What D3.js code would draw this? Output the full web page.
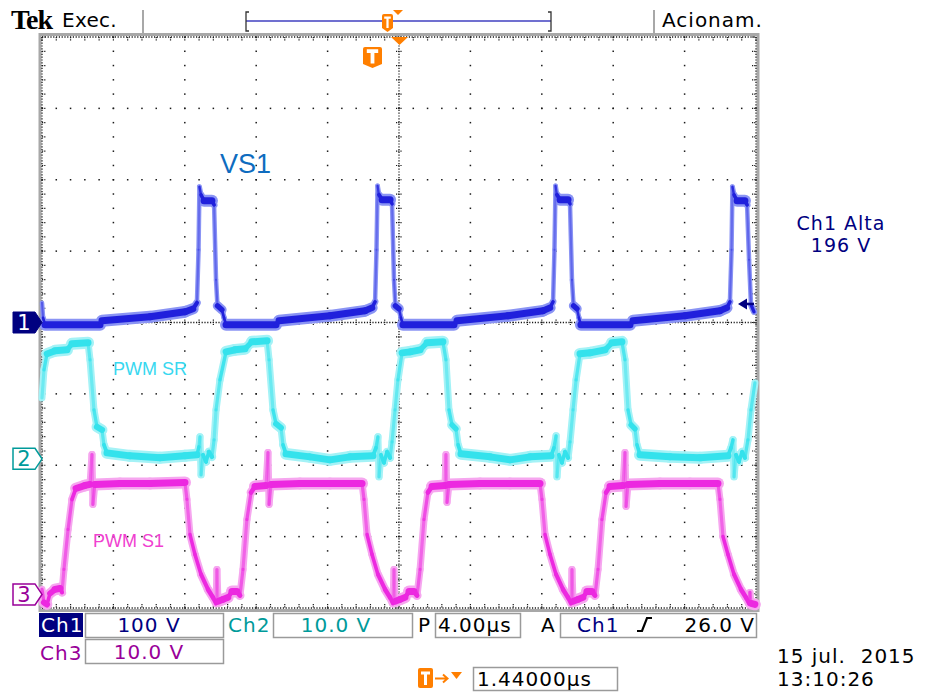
<!DOCTYPE html>
<html>
<head>
<meta charset="utf-8">
<script src="https://cdn.jsdelivr.net/npm/d3@7"></script>
<style>
  body { margin: 0; background: #fff; }
  text { font-family: "DejaVu Sans", sans-serif; }
</style>
</head>
<body>
<script>
'use strict';

// scope settings
var timePerDiv = 4;                 // µs/div
var channelNames = ["Ch1", "Ch2", "Ch3"];
var voltsPerDiv = [100, 10, 10];
var groundDiv = [0, -1.91, -3.81];  // channel ground marker, in divisions from centre
var triggerLevel = 26;              // V on Ch1

// traces: [time µs (0 = screen centre), volts]
var vs1Trace = [
  [-20.00, 27.6], [-19.94, 6.6], [-19.83, -3.2], [-16.75, -3.2], [-16.64, 2.4], [-13.95, 8.0],
  [-11.99, 15.0], [-11.54, 19.2], [-11.32, 27.6], [-11.23, 101.8], [-11.18, 190.1], [-11.09, 178.9],
  [-10.92, 170.5], [-10.48, 170.5], [-10.36, 164.9], [-10.25, 59.8], [-10.17, 23.4], [-9.92, 17.8],
  [-9.80, 6.6], [-9.69, -3.2],
  [-6.89, -3.2], [-6.72, 2.4], [-3.87, 9.4], [-1.90, 16.4], [-1.51, 20.6], [-1.34, 29.0],
  [-1.26, 101.8], [-1.20, 191.5], [-1.12, 178.9], [-0.95, 171.9], [-0.50, 171.9], [-0.39, 166.3],
  [-0.28, 59.8], [-0.20, 23.4], [0.00, 19.2], [0.11, 6.6], [0.22, -3.2],
  [3.08, -3.2], [3.25, 2.4], [6.11, 9.4], [8.07, 16.4], [8.46, 20.6], [8.63, 29.0],
  [8.71, 101.8], [8.77, 191.5], [8.85, 178.9], [9.02, 171.9], [9.47, 171.9], [9.58, 166.3],
  [9.69, 59.8], [9.78, 23.4], [9.97, 19.2], [10.08, 6.6], [10.19, -3.2],
  [12.94, -3.2], [13.11, 2.4], [16.02, 9.4], [17.98, 16.4], [18.37, 20.6], [18.54, 29.0],
  [18.63, 101.8], [18.68, 190.1], [18.77, 178.9], [18.94, 170.5], [19.38, 170.5], [19.50, 164.9],
  [19.61, 87.8], [19.72, 24.8], [19.89, 15.0]
];

var pwmSrTrace = [
  [-20.00, 8.54], [-19.89, 12.47], [-19.72, 14.71], [-19.27, 15.13], [-18.60, 15.27], [-18.32, 16.11],
  [-17.42, 16.25], [-17.31, 13.87], [-17.09, 6.86], [-16.92, 4.48], [-16.64, 4.06], [-16.53, 1.96],
  [-16.36, 0.84], [-15.07, 0.42], [-13.39, 0.14], [-11.99, 0.42], [-11.32, 0.56], [-11.21, 1.68],
  [-11.15, 3.08], [-11.09, -2.24], [-10.98, 0.56], [-10.81, -0.42], [-10.65, 0.98], [-10.48, 0.28],
  [-10.36, 2.66], [-10.25, 6.86], [-10.03, 11.06], [-9.69, 14.99], [-9.19, 15.27], [-8.63, 15.41],
  [-8.24, 16.39], [-7.39, 16.53], [-7.28, 13.87], [-7.06, 6.86], [-6.89, 4.90], [-6.61, 4.34],
  [-6.50, 1.96], [-6.33, 0.70], [-4.99, 0.28], [-3.87, -0.14], [-2.75, 0.28], [-1.46, 0.42],
  [-1.29, 1.54], [-1.18, 3.08], [-1.12, -2.52], [-1.01, 0.56], [-0.84, -0.56], [-0.67, 0.98],
  [-0.50, 0.14], [-0.39, 2.38], [-0.22, 6.86], [-0.06, 11.06], [0.17, 14.85], [0.62, 14.99],
  [1.18, 15.27], [1.57, 16.25], [2.46, 16.39], [2.63, 13.87], [2.80, 6.86], [2.97, 4.76],
  [3.19, 4.20], [3.31, 1.96], [3.47, 0.70], [5.10, 0.28], [6.22, -0.14], [7.34, 0.28],
  [8.52, 0.42], [8.68, 1.54], [8.80, 3.22], [8.85, -2.52], [8.96, 0.56], [9.13, -0.56],
  [9.30, 0.98], [9.47, 0.14], [9.58, 2.38], [9.75, 6.86], [9.92, 11.06], [10.14, 14.71],
  [10.70, 14.85], [11.54, 15.27], [11.93, 16.25], [12.49, 16.39], [12.66, 13.87], [12.83, 6.86],
  [13.00, 4.76], [13.22, 4.20], [13.33, 1.96], [13.50, 0.56], [15.18, 0.28], [16.86, 0.14],
  [18.43, 0.42], [18.60, 1.54], [18.71, 2.66], [18.77, -2.52], [18.88, 0.56], [19.05, -0.42],
  [19.22, 0.98], [19.38, 0.14], [19.55, 2.66], [19.72, 6.86], [19.94, 10.64]
];

var pwmS1Trace = [
  [-20.00, 0.70], [-19.89, -1.12], [-19.72, -1.40], [-19.55, 0.14], [-19.27, 0.70], [-18.99, 0.84],
  [-18.88, 0.28], [-18.77, 3.50], [-18.54, 9.10], [-18.32, 13.31], [-18.10, 14.85], [-17.59, 15.27],
  [-17.31, 15.41], [-17.20, 19.61], [-17.15, 12.61], [-17.04, 15.41], [-15.63, 15.55], [-13.95, 15.55],
  [-11.99, 15.69], [-11.88, 13.31], [-11.71, 8.40], [-11.43, 5.60], [-11.09, 2.80], [-10.70, 0.70],
  [-10.42, -0.42], [-10.25, -1.26], [-10.20, 3.50], [-10.14, -0.98], [-9.86, -0.70], [-9.58, -0.42],
  [-9.36, 0.42], [-9.08, 0.42], [-8.91, -0.14], [-8.74, 3.50], [-8.52, 10.50], [-8.29, 14.29],
  [-8.07, 15.13], [-7.45, 15.27], [-7.34, 19.89], [-7.28, 12.61], [-7.17, 15.41], [-5.55, 15.55],
  [-3.87, 15.55], [-2.07, 15.55], [-1.96, 13.31], [-1.79, 8.40], [-1.51, 5.60], [-1.18, 2.80],
  [-0.78, 0.70], [-0.50, -0.42], [-0.34, -1.26], [-0.28, 3.50], [-0.22, -0.98], [0.06, -0.70],
  [0.34, -0.42], [0.56, 0.42], [0.84, 0.42], [1.01, -0.14], [1.18, 3.50], [1.40, 10.50],
  [1.62, 14.29], [1.85, 15.13], [2.58, 15.27], [2.63, 19.61], [2.69, 12.89], [2.80, 15.41],
  [4.54, 15.55], [6.22, 15.55], [7.90, 15.55], [8.01, 13.31], [8.18, 8.40], [8.46, 5.60],
  [8.80, 2.80], [9.19, 0.70], [9.47, -0.42], [9.64, -1.26], [9.69, 3.50], [9.75, -0.98],
  [10.03, -0.70], [10.31, -0.42], [10.53, 0.42], [10.81, 0.42], [10.98, -0.14], [11.15, 3.50],
  [11.37, 10.50], [11.60, 14.29], [11.82, 15.13], [12.55, 15.27], [12.66, 19.89], [12.72, 12.33],
  [12.83, 15.41], [14.62, 15.55], [16.30, 15.55], [17.87, 15.55], [17.98, 13.31], [18.15, 8.12],
  [18.43, 5.60], [18.77, 2.80], [19.16, 0.70], [19.44, -0.42], [19.61, -1.26], [19.66, 0.28],
  [19.72, -1.26], [19.94, -1.40]
];

// annotations and readouts
var traceLabels = ["VS1", "PWM SR", "PWM S1"];
var scaleReadouts = ["100 V", "10.0 V", "10.0 V"];
var timeReadout = "4.00µs";
var triggerReadout = "26.0 V";
var delayReadout = "1.44000µs";
var measureLines = ["Ch1 Alta", "196 V"];
var dateLines = ["15 jul.  2015", "13:10:26"];
var headerTexts = ["Tek", "Exec.", "Acionam."];

var W = 925, H = 693;
var navy = "#000080", teal = "#009a9a", purple = "#990099", orange = "#ff7f00";

var svg = d3.select("body").append("svg")
    .attr("width", W)
    .attr("height", H);

var x = d3.scaleLinear().domain([-5 * timePerDiv, 5 * timePerDiv]).range([42, 756]);
var yDiv = d3.scaleLinear().domain([-4, 4]).range([608, 37]);
function yOf(ch, v) { return yDiv(v / voltsPerDiv[ch] + groundDiv[ch]); }

// ---- graticule ----
var grid = svg.append("g");
grid.append("rect")
    .attr("x", 40).attr("y", 34.5)
    .attr("width", 718).attr("height", 576)
    .attr("fill", "none").attr("stroke", "#a8a8a8").attr("stroke-width", 3);

var xMajor = d3.range(-20, 20.01, timePerDiv);
var xMinor = d3.range(-20, 20.01, timePerDiv / 5);
var yMajor = d3.range(-4, 4.01, 1);
var yMinor = d3.range(-4, 4.01, 0.2);
var dotColor = "#1a1a1a";

// plain dotted gridlines
xMajor.filter(function(t) { return Math.abs(t) > 0.01 && Math.abs(t) < 19.99; }).forEach(function(t) {
  grid.selectAll(null).data(yMinor).enter().append("rect")
      .attr("x", x(t) - 0.75).attr("y", function(d) { return yDiv(d) - 0.75; })
      .attr("width", 1.5).attr("height", 1.5).attr("fill", dotColor);
});
yMajor.filter(function(d) { return Math.abs(d) > 0.01 && Math.abs(d) < 3.99; }).forEach(function(dv) {
  grid.selectAll(null).data(xMinor).enter().append("rect")
      .attr("x", function(t) { return x(t) - 0.75; }).attr("y", yDiv(dv) - 0.75)
      .attr("width", 1.5).attr("height", 1.5).attr("fill", dotColor);
});

// centre crosshair and border: dense dots with minor ticks
function denseLine(x1, y1, x2, y2) {
  grid.append("line")
      .attr("x1", x1).attr("y1", y1).attr("x2", x2).attr("y2", y2)
      .attr("stroke", dotColor).attr("stroke-width", 1.3)
      .attr("stroke-dasharray", "1.2,1.6");
}
denseLine(x(0), yDiv(4), x(0), yDiv(-4));
denseLine(x(-20), yDiv(0), x(20), yDiv(0));
denseLine(x(-20), yDiv(4), x(20), yDiv(4));
denseLine(x(-20), yDiv(-4), x(20), yDiv(-4));
denseLine(x(-20), yDiv(4), x(-20), yDiv(-4));
denseLine(x(20), yDiv(4), x(20), yDiv(-4));

xMinor.forEach(function(t) {
  [[yDiv(0) - 3, yDiv(0) + 3], [yDiv(4), yDiv(4) + 4], [yDiv(-4) - 4, yDiv(-4)]].forEach(function(s) {
    grid.append("line").attr("x1", x(t)).attr("x2", x(t)).attr("y1", s[0]).attr("y2", s[1])
        .attr("stroke", dotColor).attr("stroke-width", 1.2).attr("stroke-dasharray", "1.2,1");
  });
});
yMinor.forEach(function(d) {
  [[x(0) - 3, x(0) + 3], [x(-20), x(-20) + 4], [x(20) - 4, x(20)]].forEach(function(s) {
    grid.append("line").attr("y1", yDiv(d)).attr("y2", yDiv(d)).attr("x1", s[0]).attr("x2", s[1])
        .attr("stroke", dotColor).attr("stroke-width", 1.2).attr("stroke-dasharray", "1.2,1");
  });
});

// ---- traces ----
// a noisy band: vertical noise thickness plus some timing jitter,
// so fast edges come out thin and faint, flat parts thick
function slope(ch, d) {
  var dx = Math.abs(x(d[1][0]) - x(d[0][0]));
  var dy = Math.abs(yOf(ch, d[1][1]) - yOf(ch, d[0][1]));
  var len = Math.sqrt(dx * dx + dy * dy) || 1;
  return [dx / len, dy / len];
}
function band(ch, d, vert, horiz) {
  var cs = slope(ch, d);
  return Math.sqrt(vert * vert * cs[0] * cs[0] + horiz * horiz * cs[1] * cs[1]);
}
function drawTrace(ch, pts, core, halo, jitter) {
  var g = svg.append("g");
  var segs = d3.pairs(pts);
  g.selectAll(".halo").data(segs).enter().append("line")
      .attr("x1", function(d) { return x(d[0][0]); })
      .attr("y1", function(d) { return yOf(ch, d[0][1]); })
      .attr("x2", function(d) { return x(d[1][0]); })
      .attr("y2", function(d) { return yOf(ch, d[1][1]); })
      .attr("stroke", halo)
      .attr("stroke-width", function(d) { return band(ch, d, 12, jitter); })
      .attr("stroke-linecap", "round");
  g.selectAll(".core").data(segs).enter().append("line")
      .attr("x1", function(d) { return x(d[0][0]); })
      .attr("y1", function(d) { return yOf(ch, d[0][1]); })
      .attr("x2", function(d) { return x(d[1][0]); })
      .attr("y2", function(d) { return yOf(ch, d[1][1]); })
      .attr("stroke", core)
      .attr("stroke-opacity", function(d) { return 0.3 + 0.7 * Math.min(1, slope(ch, d)[0] * 4); })
      .attr("stroke-width", function(d) { return band(ch, d, 7, jitter * 0.45); })
      .attr("stroke-linecap", "round");
}
drawTrace(0, vs1Trace, "#2020dc", "#8a94f4", 4.5);
drawTrace(1, pwmSrTrace, "#34e2ec", "#a4f2f6", 7);
drawTrace(2, pwmS1Trace, "#ec28e0", "#f6a6ef", 7);

// ---- channel ground markers ----
var markerColors = [navy, teal, purple];
[0, 1, 2].forEach(function(ch) {
  var ym = yDiv(groundDiv[ch]);
  var filled = ch === 0;
  svg.append("path")
      .attr("d", "M13," + (ym - 10.5) + " L35," + (ym - 10.5) + " L42," + ym + " L35," + (ym + 10.5) + " L13," + (ym + 10.5) + " Z")
      .attr("fill", filled ? navy : "#fff")
      .attr("stroke", markerColors[ch]).attr("stroke-width", filled ? 1 : 1.5);
  svg.append("text")
      .attr("x", 24).attr("y", ym + 7.5)
      .attr("text-anchor", "middle")
      .attr("font-size", 21)
      .attr("fill", filled ? "#fff" : markerColors[ch])
      .text(ch + 1);
});

// trigger level arrow (right side)
var yTrig = yOf(0, triggerLevel);
svg.append("path")
    .attr("d", "M738," + yTrig + " L747," + (yTrig - 5.5) + " L747," + (yTrig + 5.5) + " Z")
    .attr("fill", navy);
svg.append("line").attr("x1", 745).attr("x2", 754).attr("y1", yTrig).attr("y2", yTrig)
    .attr("stroke", navy).attr("stroke-width", 2.5);

// ---- trace annotations ----
svg.append("text").attr("x", 220).attr("y", 173)
    .style("font-family", "'Liberation Sans', sans-serif").attr("font-size", 27)
    .attr("fill", "#0e6cbf").text(traceLabels[0]);
svg.append("text").attr("x", 113).attr("y", 375)
    .style("font-family", "'Liberation Sans', sans-serif").attr("font-size", 18)
    .attr("fill", "#38d8f0").text(traceLabels[1]);
svg.append("text").attr("x", 93).attr("y", 547)
    .style("font-family", "'Liberation Sans', sans-serif").attr("font-size", 18)
    .attr("fill", "#f040d0").text(traceLabels[2]);

// measurement readout
measureLines.forEach(function(s, i) {
  svg.append("text").attr("x", 841).attr("y", 230 + i * 22)
      .attr("text-anchor", "middle").attr("font-size", 19).attr("letter-spacing", 1)
      .attr("fill", navy).text(s);
});

// ---- header ----
svg.append("text").attr("x", 11).attr("y", 29)
    .style("font-family", "'Liberation Serif', serif").attr("font-weight", "bold")
    .attr("font-size", 28).attr("letter-spacing", -1).text(headerTexts[0]);
svg.append("text").attr("x", 62).attr("y", 27).attr("font-size", 20).attr("letter-spacing", 0.3).text(headerTexts[1]);
svg.append("text").attr("x", 662).attr("y", 27).attr("font-size", 20).attr("letter-spacing", 1).text(headerTexts[2]);
[143, 654].forEach(function(sx) {
  svg.append("line").attr("x1", sx).attr("x2", sx).attr("y1", 10).attr("y2", 34)
      .attr("stroke", "#a8a8a8").attr("stroke-width", 2);
});

// record view bar
svg.append("line").attr("x1", 246).attr("x2", 551).attr("y1", 21).attr("y2", 21)
    .attr("stroke", "#4040c0").attr("stroke-width", 1.5);
svg.append("path").attr("d", "M249,12 L246,12 L246,31 L249,31").attr("fill", "none").attr("stroke", "#333").attr("stroke-width", 1.3);
svg.append("path").attr("d", "M548,12 L551,12 L551,31 L548,31").attr("fill", "none").attr("stroke", "#333").attr("stroke-width", 1.3);

function tBadge(cx, top, w, h) {
  svg.append("path")
      .attr("d", "M" + (cx - w / 2) + "," + (top + 2) + " Q" + (cx - w / 2) + "," + top + " " + (cx - w / 2 + 2) + "," + top +
           " L" + (cx + w / 2 - 2) + "," + top + " Q" + (cx + w / 2) + "," + top + " " + (cx + w / 2) + "," + (top + 2) +
           " L" + (cx + w / 2) + "," + (top + h - 4) + " L" + cx + "," + (top + h) + " L" + (cx - w / 2) + "," + (top + h - 4) + " Z")
      .attr("fill", orange);
  svg.append("path")
      .attr("d", "M" + (cx - w * 0.3) + "," + (top + h * 0.2) + " L" + (cx + w * 0.3) + "," + (top + h * 0.2) +
           " M" + cx + "," + (top + h * 0.2) + " L" + cx + "," + (top + h * 0.78))
      .attr("stroke", "#fff").attr("stroke-width", w * 0.2).attr("fill", "none");
}
tBadge(387.5, 14, 11, 18);
svg.append("path").attr("d", "M393,10 L403,10 L398,15 Z").attr("fill", orange);
tBadge(372.5, 47, 19, 21);
svg.append("path").attr("d", "M391,37 L408,37 L399.5,45 Z").attr("fill", orange);

// ---- bottom readouts ----
var bottom = svg.append("g").attr("font-size", 20).attr("letter-spacing", 1);
function box(bx, by, bw, bh) {
  bottom.append("rect").attr("x", bx).attr("y", by).attr("width", bw).attr("height", bh)
      .attr("fill", "#fff").attr("stroke", "#9a9a9a").attr("stroke-width", 1.5);
}
bottom.append("rect").attr("x", 39).attr("y", 613).attr("width", 44).attr("height", 24).attr("fill", navy);
bottom.append("text").attr("x", 41).attr("y", 632).attr("fill", "#fff").text(channelNames[0]);
box(85.5, 613.5, 138, 24);
bottom.append("text").attr("x", 149).attr("y", 632).attr("text-anchor", "middle").attr("fill", navy).text(scaleReadouts[0]);
bottom.append("text").attr("x", 228).attr("y", 632).attr("fill", teal).text(channelNames[1]);
box(273.5, 613.5, 139, 24);
bottom.append("text").attr("x", 336).attr("y", 632).attr("text-anchor", "middle").attr("fill", teal).text(scaleReadouts[1]);
bottom.append("text").attr("x", 418).attr("y", 632).attr("fill", "#000").text("P");
box(435.5, 613.5, 85, 24);
bottom.append("text").attr("x", 438).attr("y", 632).attr("fill", "#000").text(timeReadout);
bottom.append("text").attr("x", 541).attr("y", 632).attr("fill", "#000").text("A");
box(560.5, 613.5, 196, 24);
bottom.append("text").attr("x", 577).attr("y", 632).attr("fill", navy).text(channelNames[0]);
bottom.append("path").attr("d", "M637,631 L642,631 L647,618 L652,618")
    .attr("fill", "none").attr("stroke", "#000").attr("stroke-width", 2.2);
bottom.append("text").attr("x", 755).attr("y", 632).attr("text-anchor", "end").attr("fill", "#000").text(triggerReadout);

bottom.append("text").attr("x", 40).attr("y", 660).attr("fill", purple).text(channelNames[2]);
box(85.5, 639.5, 138, 24);
bottom.append("text").attr("x", 149).attr("y", 659).attr("text-anchor", "middle").attr("fill", purple).text(scaleReadouts[2]);

// trigger delay
svg.append("rect").attr("x", 418).attr("y", 668).attr("width", 15).attr("height", 20).attr("rx", 2).attr("fill", orange);
svg.append("path").attr("d", "M421,673 L430,673 M425.5,673 L425.5,685").attr("stroke", "#fff").attr("stroke-width", 3);
svg.append("path").attr("d", "M435,678.5 L447,678.5 M443,674.5 L447.5,678.5 L443,682.5")
    .attr("stroke", orange).attr("stroke-width", 2).attr("fill", "none");
svg.append("path").attr("d", "M451,672 L462,672 L456.5,679 Z").attr("fill", orange);
box(473.5, 667.5, 144, 23);
bottom.append("text").attr("x", 477).attr("y", 686).attr("fill", "#000").text(delayReadout);

dateLines.forEach(function(s, i) {
  bottom.append("text").attr("x", 777).attr("y", 663 + i * 23).attr("fill", "#000")
      .attr("xml:space", "preserve").style("white-space", "pre").text(s);
});
</script>
</body>
</html>
